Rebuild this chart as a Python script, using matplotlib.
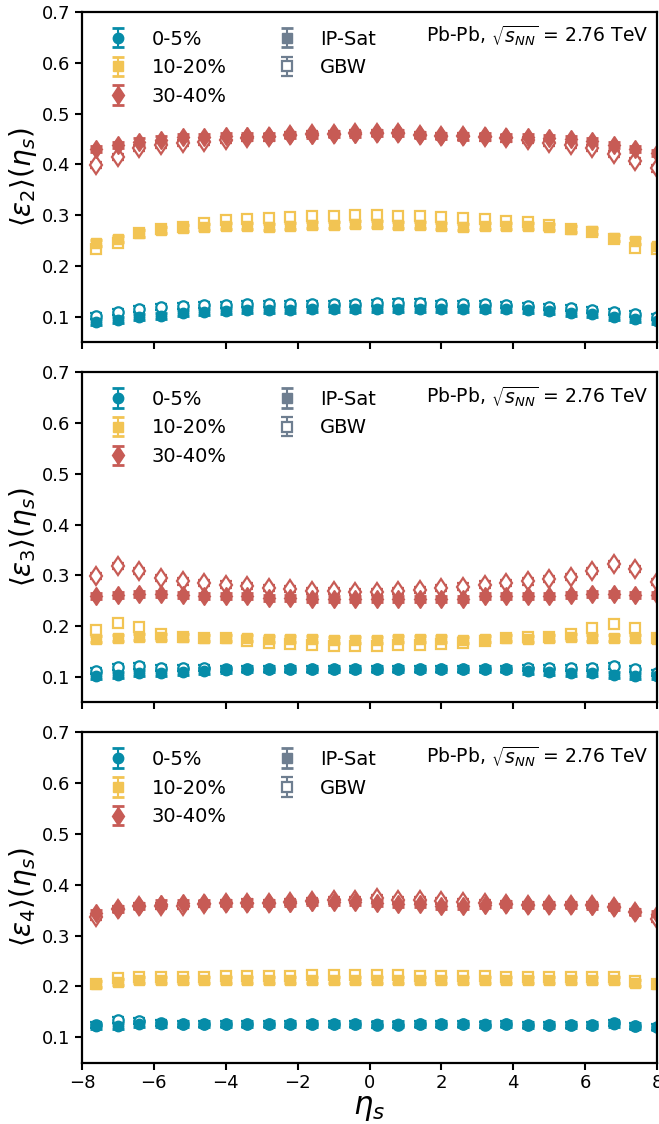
import numpy as np
import matplotlib
matplotlib.use('Agg')
import matplotlib.pyplot as plt

# eta_s grid
eta = [-7.6, -7.0, -6.4, -5.8, -5.2, -4.6, -4.0, -3.4, -2.8, -2.2, -1.6, -1.0, -0.4,
       0.2, 0.8, 1.4, 2.0, 2.6, 3.2, 3.8, 4.4, 5.0, 5.6, 6.2, 6.8, 7.4, 8.0]

# <eps_2>
e2_ipsat_05 = [0.090, 0.094, 0.099, 0.102, 0.107, 0.109, 0.111, 0.113, 0.113, 0.114, 0.116, 0.116, 0.116,
               0.116, 0.116, 0.116, 0.115, 0.115, 0.115, 0.115, 0.114, 0.111, 0.108, 0.105, 0.099, 0.095, 0.092]
e2_gbw_05 = [0.102, 0.110, 0.116, 0.119, 0.121, 0.123, 0.124, 0.125, 0.125, 0.125, 0.126, 0.126, 0.126,
             0.127, 0.128, 0.128, 0.126, 0.125, 0.125, 0.124, 0.121, 0.120, 0.118, 0.114, 0.110, 0.105, 0.099]
e2_ipsat_1020 = [0.245, 0.253, 0.264, 0.271, 0.275, 0.277, 0.278, 0.279, 0.276, 0.278, 0.280, 0.281, 0.282,
                 0.282, 0.281, 0.280, 0.278, 0.277, 0.279, 0.279, 0.278, 0.277, 0.273, 0.268, 0.255, 0.249, 0.240]
e2_gbw_1020 = [0.233, 0.246, 0.264, 0.272, 0.277, 0.284, 0.290, 0.293, 0.295, 0.296, 0.298, 0.299, 0.300,
               0.300, 0.299, 0.298, 0.296, 0.294, 0.293, 0.289, 0.287, 0.281, 0.273, 0.267, 0.253, 0.236, 0.233]
e2_ipsat_3040 = [0.430, 0.438, 0.445, 0.449, 0.453, 0.453, 0.455, 0.455, 0.455, 0.458, 0.458, 0.459, 0.460,
                 0.461, 0.461, 0.458, 0.456, 0.455, 0.455, 0.453, 0.453, 0.451, 0.450, 0.446, 0.438, 0.431, 0.422]
e2_gbw_3040 = [0.399, 0.415, 0.432, 0.438, 0.443, 0.445, 0.448, 0.452, 0.453, 0.458, 0.459, 0.460, 0.461,
               0.462, 0.461, 0.458, 0.456, 0.455, 0.453, 0.451, 0.448, 0.443, 0.438, 0.432, 0.421, 0.406, 0.392]

# <eps_3>
e3_ipsat_05 = [0.101, 0.103, 0.108, 0.107, 0.110, 0.112, 0.113, 0.115, 0.115, 0.115, 0.115, 0.115, 0.115,
               0.115, 0.115, 0.115, 0.115, 0.115, 0.115, 0.115, 0.112, 0.110, 0.108, 0.107, 0.104, 0.101, 0.102]
e3_gbw_05 = [0.112, 0.120, 0.121, 0.117, 0.117, 0.117, 0.115, 0.115, 0.115, 0.115, 0.115, 0.115, 0.115,
             0.115, 0.115, 0.115, 0.115, 0.115, 0.115, 0.115, 0.117, 0.117, 0.118, 0.118, 0.122, 0.115, 0.107]
e3_ipsat_1020 = [0.174, 0.176, 0.178, 0.179, 0.179, 0.177, 0.176, 0.177, 0.175, 0.174, 0.174, 0.172, 0.172,
                 0.172, 0.174, 0.174, 0.175, 0.172, 0.175, 0.176, 0.175, 0.176, 0.178, 0.177, 0.176, 0.176, 0.175]
e3_gbw_1020 = [0.192, 0.206, 0.198, 0.184, 0.179, 0.177, 0.176, 0.170, 0.166, 0.165, 0.162, 0.161, 0.161,
               0.161, 0.162, 0.162, 0.165, 0.166, 0.170, 0.176, 0.178, 0.179, 0.185, 0.196, 0.205, 0.196, 0.177]
e3_ipsat_3040 = [0.259, 0.262, 0.264, 0.264, 0.262, 0.259, 0.259, 0.259, 0.256, 0.256, 0.254, 0.254, 0.254,
                 0.254, 0.254, 0.254, 0.254, 0.254, 0.259, 0.259, 0.259, 0.259, 0.261, 0.264, 0.264, 0.261, 0.262]
e3_gbw_3040 = [0.299, 0.318, 0.309, 0.295, 0.288, 0.285, 0.282, 0.279, 0.276, 0.273, 0.270, 0.270, 0.267,
               0.267, 0.270, 0.271, 0.275, 0.278, 0.282, 0.285, 0.288, 0.292, 0.297, 0.308, 0.322, 0.312, 0.287]

# <eps_4>
e4_ipsat_05 = [0.122, 0.122, 0.125, 0.125, 0.126, 0.126, 0.126, 0.126, 0.126, 0.126, 0.126, 0.126, 0.126,
               0.126, 0.126, 0.126, 0.126, 0.126, 0.126, 0.125, 0.123, 0.123, 0.123, 0.123, 0.125, 0.122, 0.120]
e4_gbw_05 = [0.123, 0.133, 0.132, 0.128, 0.126, 0.126, 0.126, 0.126, 0.126, 0.126, 0.126, 0.125, 0.125,
             0.124, 0.124, 0.125, 0.125, 0.125, 0.124, 0.125, 0.123, 0.123, 0.123, 0.123, 0.127, 0.122, 0.120]
e4_ipsat_1020 = [0.204, 0.208, 0.212, 0.212, 0.212, 0.213, 0.213, 0.213, 0.213, 0.213, 0.213, 0.213, 0.213,
                 0.213, 0.213, 0.213, 0.213, 0.213, 0.213, 0.213, 0.213, 0.213, 0.213, 0.212, 0.212, 0.207, 0.204]
e4_gbw_1020 = [0.204, 0.217, 0.218, 0.218, 0.218, 0.219, 0.220, 0.221, 0.221, 0.221, 0.222, 0.222, 0.222,
               0.222, 0.222, 0.221, 0.221, 0.220, 0.220, 0.219, 0.219, 0.219, 0.219, 0.218, 0.218, 0.210, 0.204]
e4_ipsat_3040 = [0.344, 0.353, 0.359, 0.363, 0.364, 0.364, 0.364, 0.365, 0.364, 0.364, 0.366, 0.366, 0.366,
                 0.364, 0.362, 0.362, 0.359, 0.359, 0.361, 0.362, 0.361, 0.361, 0.361, 0.359, 0.356, 0.346, 0.343]
e4_gbw_3040 = [0.336, 0.353, 0.359, 0.359, 0.359, 0.362, 0.364, 0.365, 0.364, 0.366, 0.368, 0.369, 0.370,
               0.373, 0.370, 0.369, 0.368, 0.366, 0.364, 0.362, 0.361, 0.361, 0.361, 0.361, 0.356, 0.346, 0.333]

yerr = 0.006

labels = ['0-5%', '10-20%', '30-40%']
colors = ['#068ca8', '#f2c453', '#c75b55']
markers = ['o', 's', 'd']
msizes = [7.5, 7.5, 9.5]
grey = '#6e7e90'

panels = [
    (r'$\langle\varepsilon_2\rangle(\eta_s)$',
     [e2_ipsat_05, e2_ipsat_1020, e2_ipsat_3040], [e2_gbw_05, e2_gbw_1020, e2_gbw_3040]),
    (r'$\langle\varepsilon_3\rangle(\eta_s)$',
     [e3_ipsat_05, e3_ipsat_1020, e3_ipsat_3040], [e3_gbw_05, e3_gbw_1020, e3_gbw_3040]),
    (r'$\langle\varepsilon_4\rangle(\eta_s)$',
     [e4_ipsat_05, e4_ipsat_1020, e4_ipsat_3040], [e4_gbw_05, e4_gbw_1020, e4_gbw_3040]),
]

fig, axes = plt.subplots(3, 1, figsize=(6.59, 11.24), dpi=100, sharex=True)
fig.subplots_adjust(left=0.1244, right=0.997, top=0.9893, bottom=0.0547, hspace=0.091)

for ax, (ylab, ipsat, gbw) in zip(axes, panels):
    handles = []
    for i in range(3):
        # GBW (open) drawn first, IP-Sat (filled) on top
        ax.errorbar(eta, gbw[i], yerr=yerr, fmt=markers[i], ms=msizes[i], color=colors[i],
                    mfc='white', mec=colors[i], mew=1.6, capsize=4, capthick=2, elinewidth=1.5)
    for i in range(3):
        h = ax.errorbar(eta, ipsat[i], yerr=yerr, fmt=markers[i], ms=msizes[i], color=colors[i],
                        mec=colors[i], capsize=4, capthick=2, elinewidth=1.5, label=labels[i])
        handles.append(h)
    h_ip = ax.errorbar([np.nan], [np.nan], yerr=yerr, fmt='s', ms=7.5, color=grey,
                       capsize=4, capthick=2, elinewidth=1.5, label='IP-Sat')
    h_gbw = ax.errorbar([np.nan], [np.nan], yerr=yerr, fmt='s', ms=7.5, color=grey, mfc='white',
                        mec=grey, mew=1.6, capsize=4, capthick=2, elinewidth=1.5, label='GBW')
    handles += [h_ip, h_gbw]
    ax.legend(handles=handles, ncol=2, loc='upper left', frameon=False, fontsize=14,
              handlelength=1.6, handletextpad=0.9, columnspacing=2.3, labelspacing=0.5,
              bbox_to_anchor=(0.006, 1.0))
    ax.text(0.985, 0.965, r'Pb-Pb, $\sqrt{s_{NN}}$ = 2.76 TeV', transform=ax.transAxes,
            ha='right', va='top', fontsize=13.5)
    ax.set_ylim(0.05, 0.7)
    ax.set_yticks([0.1, 0.2, 0.3, 0.4, 0.5, 0.6, 0.7])
    ax.set_ylabel(ylab, fontsize=20, labelpad=2)
    ax.tick_params(direction='out', length=5, width=1.5, labelsize=13)
    for sp in ax.spines.values():
        sp.set_linewidth(1.6)

axes[-1].set_xlim(-8, 8)
axes[-1].set_xticks([-8, -6, -4, -2, 0, 2, 4, 6, 8])
axes[-1].set_xlabel(r'$\eta_s$', fontsize=22, labelpad=1)

fig.savefig('out.png', dpi=100)
